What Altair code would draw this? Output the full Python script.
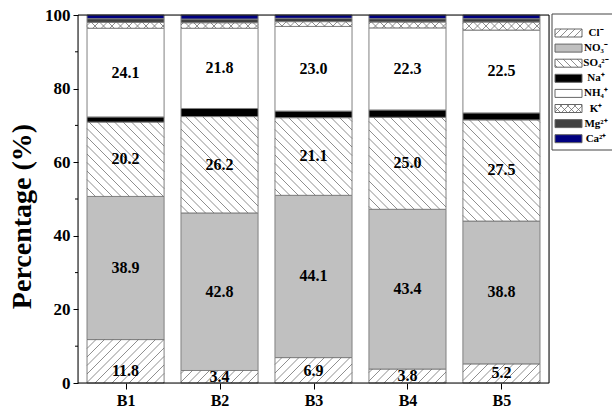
import altair as alt
import pandas as pd

# Samples and ion species (stacking order, bottom to top)
categories = ["B1", "B2", "B3", "B4", "B5"]
species = ["Cl⁻", "NO₃⁻", "SO₄²⁻", "Na⁺", "NH₄⁺", "K⁺", "Mg²⁺", "Ca²⁺"]

# Percentage contribution of each ion in every sample
cl = [11.8, 3.4, 6.9, 3.8, 5.2]
no3 = [38.9, 42.8, 44.1, 43.4, 38.8]
so4 = [20.2, 26.2, 21.1, 25.0, 27.5]
na = [1.4, 2.2, 1.8, 2.0, 1.9]
nh4 = [24.1, 21.8, 23.0, 22.3, 22.5]
k = [1.6, 1.5, 1.3, 1.6, 2.2]
mg = [1.0, 1.0, 0.9, 0.9, 0.9]
ca = [1.0, 1.1, 0.9, 1.0, 1.0]
series = [cl, no3, so4, na, nh4, k, mg, ca]

y_ticks = [0, 20, 40, 60, 80, 100]
y_minor = [10, 30, 50, 70, 90]
labelled = ["Cl⁻", "NO₃⁻", "SO₄²⁻", "NH₄⁺"]

# ---- styling / layout ----
FONT = "Liberation Serif"
W, H = 471, 368
X_DOMAIN = [0.494, 5.506]
BAR_HALF = 0.41
fills = ["white", "#c0c0c0", "white", "black", "white", "white", "#404040", "#000080"]
hatches = {"Cl⁻": ["/"], "SO₄²⁻": ["\\"], "K⁺": ["/", "\\"]}
HATCH_STEP = 8.5
sx = W / (X_DOMAIN[1] - X_DOMAIN[0])
sy = H / 100.0


def hatch_lines(x0, x1, y0, y1, kind, step):
    """Diagonal line segments clipped to a rectangle (pixel units, y up)."""
    out = []
    if kind == "/":
        lo, hi = y0 - x1, y1 - x0
    else:
        lo, hi = x0 + y0, x1 + y1
    kk = int(lo // step)
    while kk * step <= hi:
        c = kk * step
        if kind == "/":
            xa, xb = max(x0, y0 - c), min(x1, y1 - c)
            if xb - xa > 0.3:
                out.append((xa, xa + c, xb, xb + c))
        else:
            xa, xb = max(x0, c - y1), min(x1, c - y0)
            if xb - xa > 0.3:
                out.append((xa, c - xa, xb, c - xb))
        kk += 1
    return out


# stacked segments
rows = []
for i, cat in enumerate(categories):
    base = 0.0
    for s, vals in zip(species, series):
        v = vals[i]
        rows.append(dict(cat=cat, species=s, value=v, y0=base, y1=base + v,
                         x0=i + 1 - BAR_HALF, x1=i + 1 + BAR_HALF))
        base += v
bars_df = pd.DataFrame(rows)

# hatch lines inside the patterned segments (data units)
hrows = []
for r in rows:
    for kind in hatches.get(r["species"], []):
        px0 = (r["x0"] - X_DOMAIN[0]) * sx
        px1 = (r["x1"] - X_DOMAIN[0]) * sx
        for (a, b, c, d) in hatch_lines(px0, px1, r["y0"] * sy, r["y1"] * sy, kind, HATCH_STEP):
            hrows.append(dict(x0=a / sx + X_DOMAIN[0], y0=b / sy,
                              x1=c / sx + X_DOMAIN[0], y1=d / sy))
hatch_df = pd.DataFrame(hrows)

# value labels
lrows = []
for r in rows:
    if r["species"] in labelled:
        half = r["value"] / 2
        if r["species"] == "Cl⁻":
            half = min(half, 3.2)
        lrows.append(dict(x0=(r["x0"] + r["x1"]) / 2, y0=r["y0"] + half,
                          txt=f"{r['value']:.1f}"))
labels_df = pd.DataFrame(lrows)

x_scale = alt.Scale(domain=X_DOMAIN, nice=False, zero=False)
y_scale = alt.Scale(domain=[0, 100], nice=False)
fill_scale = alt.Scale(domain=species, range=fills)
label_expr = "[" + ",".join(f"'{c}'" for c in categories) + "][datum.value - 1]"

x_axis = alt.Axis(
    values=[1, 2, 3, 4, 5], labelExpr=label_expr, title=None, grid=False, domain=False,
    tickSize=6, tickColor="black", labelFont=FONT, labelFontSize=16,
    labelFontWeight="bold", labelColor="black", labelPadding=3)
y_axis = alt.Axis(
    values=y_ticks, title="Percentage (%)", grid=False, domain=False, tickSize=5,
    tickColor="black", labelFont=FONT, labelFontSize=17, labelFontWeight="bold",
    labelColor="black", labelPadding=3, titleFont=FONT, titleFontSize=28,
    titleFontWeight="bold", titleColor="black", titlePadding=8, titleY=201)

X = alt.X("x0:Q", scale=x_scale, axis=x_axis)
Y = alt.Y("y0:Q", scale=y_scale, axis=y_axis)

bars = alt.Chart(bars_df).mark_rect(stroke="#808080", strokeWidth=1).encode(
    x=X, x2="x1:Q", y=Y, y2="y1:Q",
    fill=alt.Fill("species:N", scale=fill_scale, legend=None),
)

hatch = alt.Chart(hatch_df).mark_rule(color="#5e5e5e", strokeWidth=0.7).encode(
    x=X, x2="x1:Q", y=Y, y2="y1:Q",
)

texts = alt.Chart(labels_df).mark_text(
    font=FONT, fontSize=16, fontWeight="bold", color="black", baseline="middle"
).encode(x=X, y=Y, text="txt:N")

# short minor ticks on the left of the plot
minor = alt.Chart(pd.DataFrame({"y0": y_minor})).mark_rule(color="black").encode(
    y=Y, x=alt.value(-3), x2=alt.value(0)
)

frame = alt.Chart(pd.DataFrame({"f": [0]})).mark_rect(
    fill=None, stroke="black", strokeWidth=1
).encode(x=alt.value(0), x2=alt.value(W), y=alt.value(0), y2=alt.value(H))

# ---- legend (pixel positions relative to the plot origin) ----
LEG_X0, LEG_X1 = 477, 504
LEG_TOP, LEG_STEP, LEG_H = 18, 15.1, 8
leg_rows = []
leg_hatch = []
for i, s in enumerate(species):
    cy = LEG_TOP + LEG_STEP * i
    leg_rows.append(dict(species=s, ly=cy - LEG_H / 2, ly2=cy + LEG_H / 2, ty=cy))
    for kind in hatches.get(s, []):
        for (a, b, c, d) in hatch_lines(LEG_X0, LEG_X1, -(cy + LEG_H / 2), -(cy - LEG_H / 2), kind, 7):
            leg_hatch.append(dict(lx=a, ly=-b, lx2=c, ly2=-d))
leg_df = pd.DataFrame(leg_rows)
leg_hatch_df = pd.DataFrame(leg_hatch)

leg_box = alt.Chart(pd.DataFrame({"b": [0]})).mark_rect(
    fill="white", stroke="#444444", strokeWidth=1
).encode(x=alt.value(474), x2=alt.value(560), y=alt.value(-1), y2=alt.value(135))

leg_swatch = alt.Chart(leg_df).mark_rect(stroke="#666666", strokeWidth=1).encode(
    x=alt.value(LEG_X0), x2=alt.value(LEG_X1),
    y=alt.Y("ly:Q", scale=None), y2="ly2:Q",
    fill=alt.Fill("species:N", scale=fill_scale, legend=None),
)

leg_lines = alt.Chart(leg_hatch_df).mark_rule(color="#5e5e5e", strokeWidth=0.7).encode(
    x=alt.X("lx:Q", scale=None), x2="lx2:Q",
    y=alt.Y("ly:Q", scale=None), y2="ly2:Q",
)

leg_text = alt.Chart(leg_df).mark_text(
    font=FONT, fontSize=11, fontWeight="bold", color="black", align="center", baseline="middle"
).encode(x=alt.value(518), y=alt.Y("ty:Q", scale=None), text="species:N")

chart = alt.layer(
    bars, hatch, texts, minor, frame, leg_box, leg_swatch, leg_lines, leg_text
).properties(
    width=W, height=H,
    autosize=alt.AutoSizeParams(type="none"),
    padding={"left": 78, "top": 15, "right": 63, "bottom": 33},
).configure_view(stroke=None).configure(background="white")

chart.save("out.html", embed_options={"renderer": "svg", "actions": False})
